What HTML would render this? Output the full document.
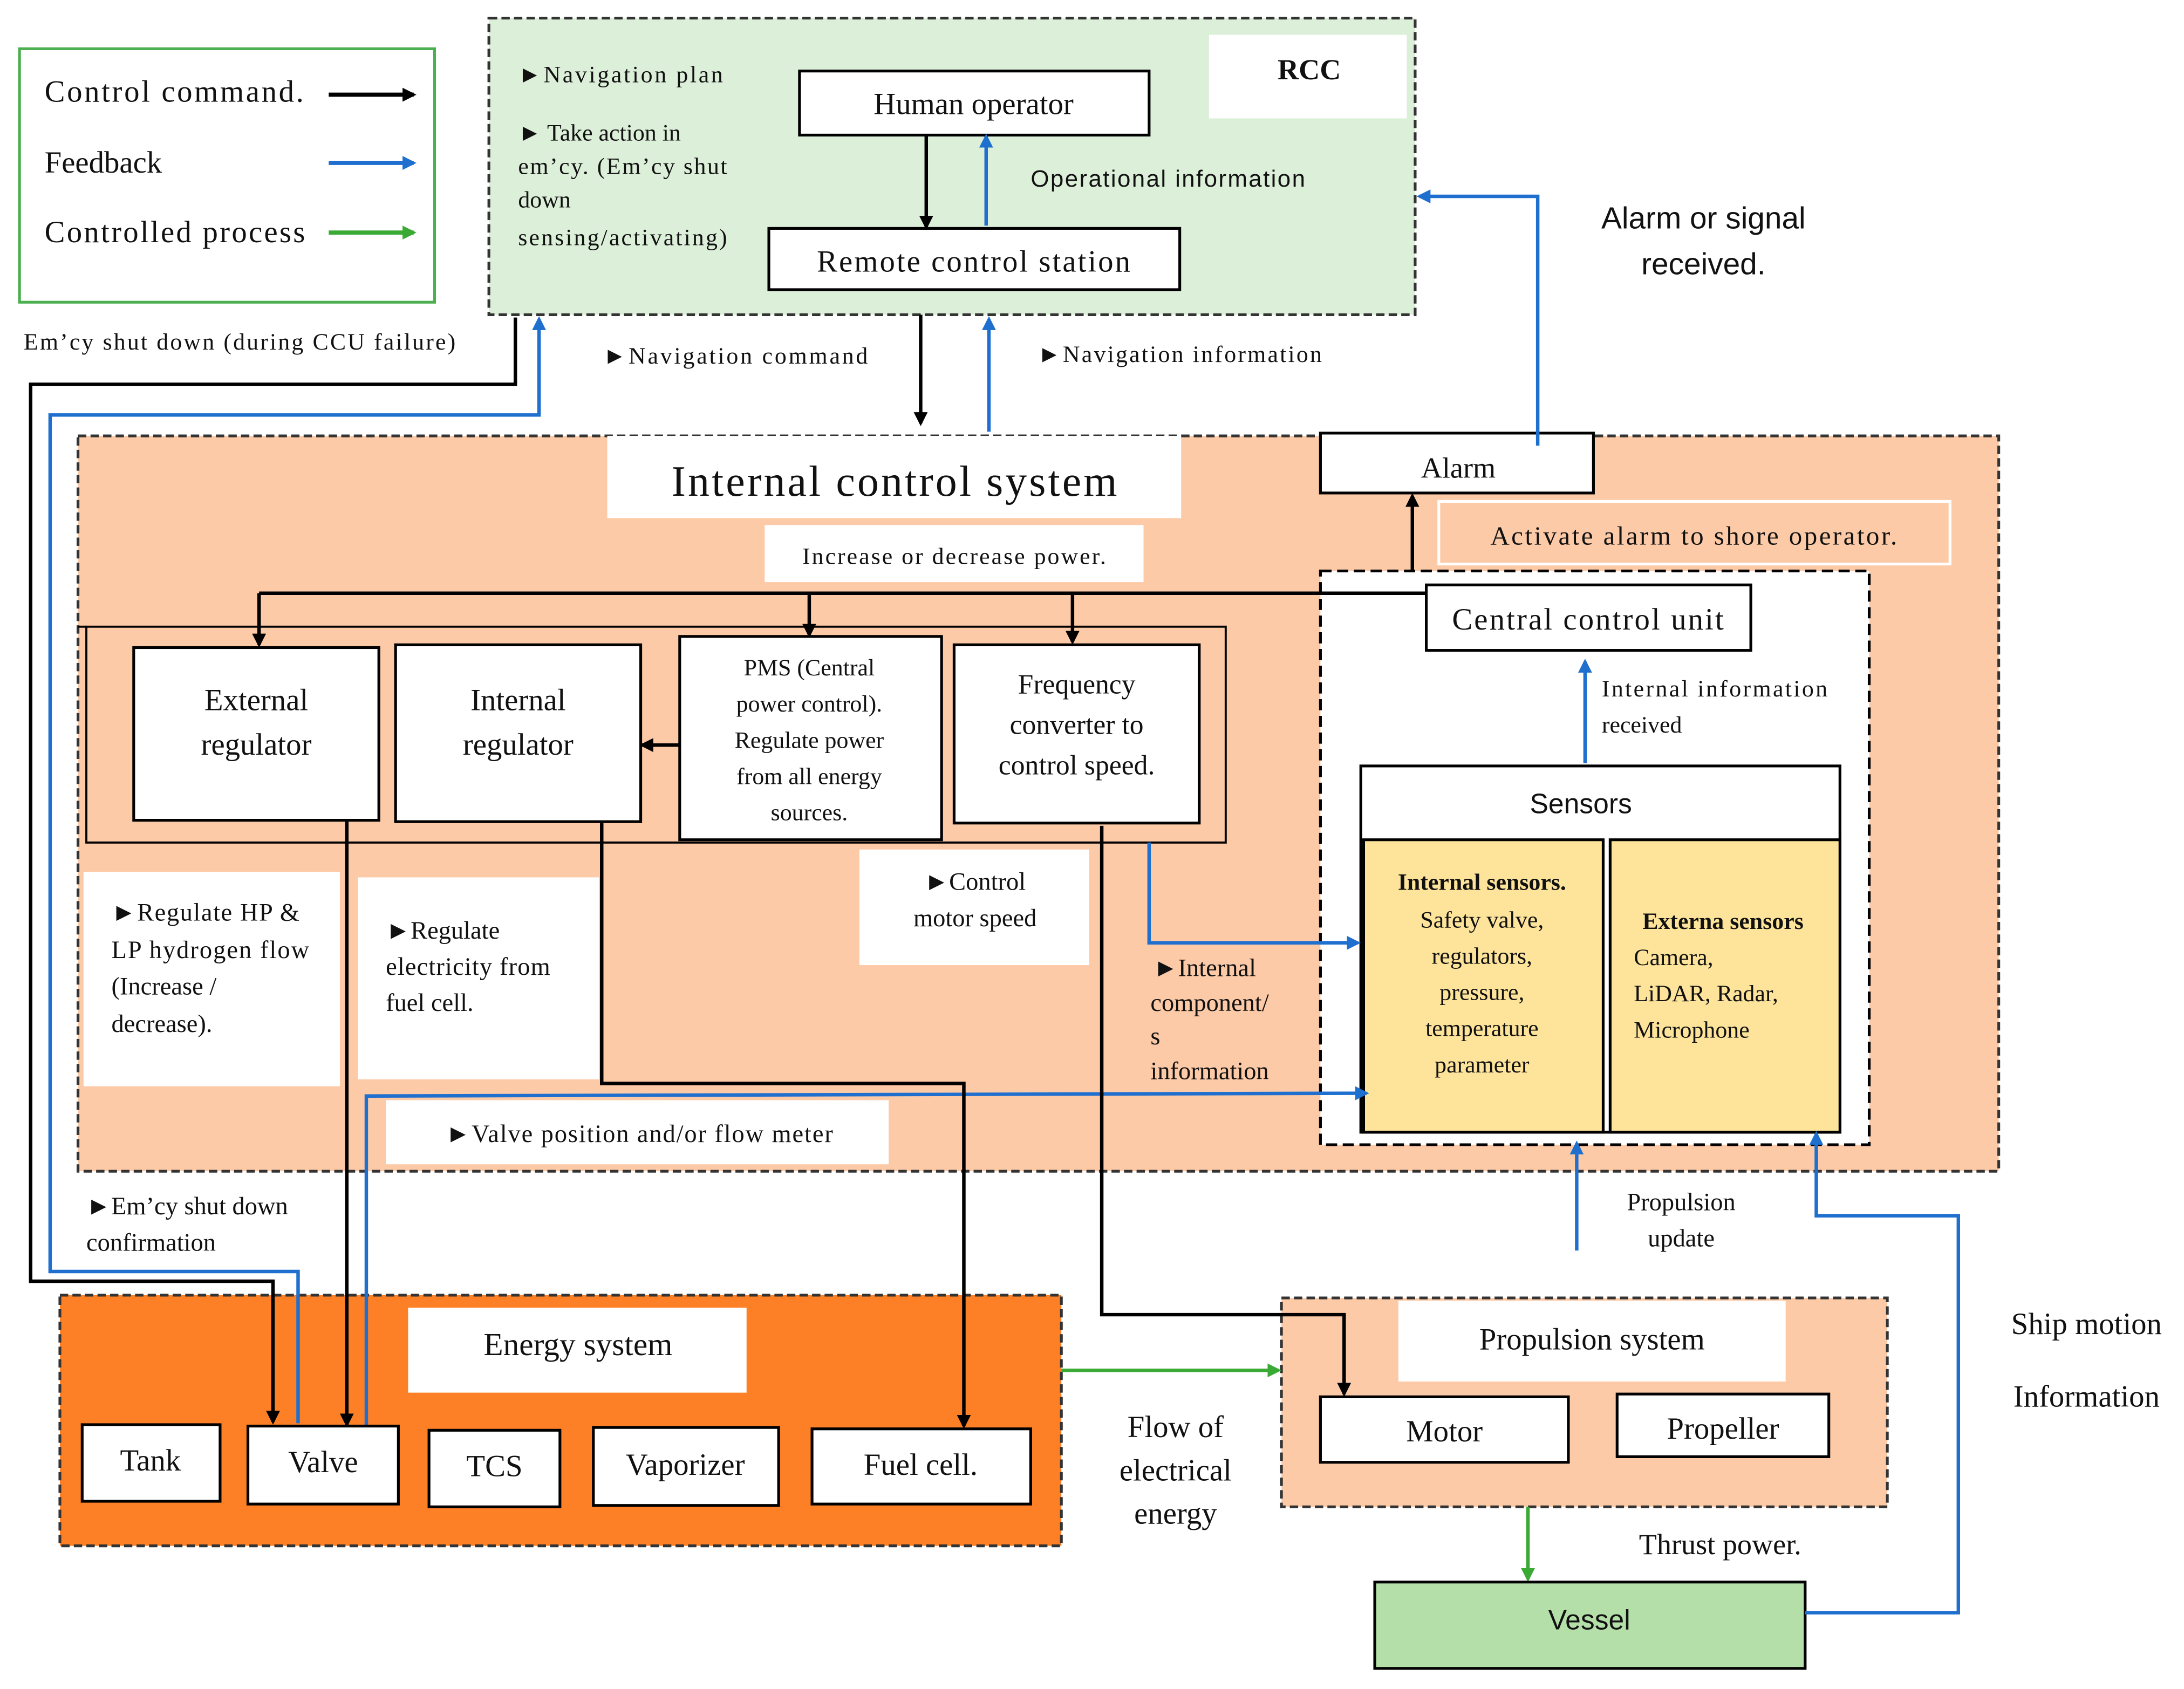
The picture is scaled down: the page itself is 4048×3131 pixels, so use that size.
<!DOCTYPE html>
<html><head><meta charset="utf-8"><style>
html,body{margin:0;padding:0;background:#fff;}
svg{display:block;}
.s{font-family:"Liberation Serif",serif;fill:#111;}
.a{font-family:"Liberation Sans",sans-serif;fill:#111;}
</style></head><body>
<svg width="4048" height="3131" viewBox="0 0 1568 1212.8" preserveAspectRatio="none" xmlns="http://www.w3.org/2000/svg">
<defs>
<marker id="mk" markerWidth="10" markerHeight="10" refX="8" refY="5" orient="auto" markerUnits="userSpaceOnUse"><path d="M0,0 L10,5 L0,10 z" fill="#000"/></marker>
<marker id="mb" markerWidth="10" markerHeight="10" refX="8" refY="5" orient="auto" markerUnits="userSpaceOnUse"><path d="M0,0 L10,5 L0,10 z" fill="#1f6fcf"/></marker>
<marker id="mg" markerWidth="10" markerHeight="10" refX="8" refY="5" orient="auto" markerUnits="userSpaceOnUse"><path d="M0,0 L10,5 L0,10 z" fill="#3aaa35"/></marker>
</defs>
<rect width="1568" height="1212.8" fill="#fff"/>
<!-- legend -->
<rect x="14" y="35" width="298" height="182" fill="#fff" stroke="#4caf50" stroke-width="2"/>
<text class="s" x="32" y="73" font-size="22" textLength="186">Control command.</text>
<line x1="236" y1="68" x2="297" y2="68" stroke="#000" stroke-width="3" marker-end="url(#mk)"/>
<text class="s" x="32" y="124" font-size="22">Feedback</text>
<line x1="236" y1="117" x2="297" y2="117" stroke="#1f6fcf" stroke-width="3" marker-end="url(#mb)"/>
<text class="s" x="32" y="174" font-size="22" textLength="187">Controlled process</text>
<line x1="236" y1="167" x2="297" y2="167" stroke="#3aaa35" stroke-width="3" marker-end="url(#mg)"/>
<text class="s" x="17" y="251" font-size="17" textLength="310">Em’cy shut down (during CCU failure)</text>
<!-- RCC -->
<rect x="351" y="13" width="665" height="213" fill="#dcefd9" stroke="#333" stroke-width="2" stroke-dasharray="6,3"/>
<rect x="868" y="25" width="142" height="60" fill="#fff"/>
<text class="s" x="940" y="57" font-size="21" font-weight="bold" text-anchor="middle">RCC</text>
<rect x="574" y="51" width="251" height="46" fill="#fff" stroke="#000" stroke-width="2"/>
<text class="s" x="699" y="82" font-size="22" text-anchor="middle">Human operator</text>
<rect x="552" y="164" width="295" height="44" fill="#fff" stroke="#000" stroke-width="2"/>
<text class="s" x="699" y="195" font-size="22" text-anchor="middle" textLength="225">Remote control station</text>
<line x1="665" y1="97" x2="665" y2="163" stroke="#000" stroke-width="2.5" marker-end="url(#mk)"/>
<line x1="708" y1="162" x2="708" y2="98" stroke="#1f6fcf" stroke-width="2.5" marker-end="url(#mb)"/>
<text class="a" x="740" y="134" font-size="17" textLength="197">Operational information</text>
<g class="s" font-size="17">
<text x="372" y="59" textLength="147">►Navigation plan</text>
<text x="372" y="101">► Take action in</text>
<text x="372" y="125" textLength="150">em’cy. (Em’cy shut</text>
<text x="372" y="149">down</text>
<text x="372" y="176" textLength="150">sensing/activating)</text>
</g>
<line x1="661" y1="226" x2="661" y2="304" stroke="#000" stroke-width="2.5" marker-end="url(#mk)"/>
<line x1="710" y1="310" x2="710" y2="229" stroke="#1f6fcf" stroke-width="2.5" marker-end="url(#mb)"/>
<text class="s" x="433" y="261" font-size="17" textLength="190">►Navigation command</text>
<text class="s" x="745" y="260" font-size="17" textLength="204">►Navigation information</text>
<text class="a" x="1223" y="164" font-size="22" text-anchor="middle">Alarm or signal</text>
<text class="a" x="1223" y="197" font-size="22" text-anchor="middle">received.</text>
<!-- Internal control system -->
<rect x="56" y="313" width="1379" height="528" fill="#fdcaa7" stroke="#333" stroke-width="2" stroke-dasharray="6,3"/>
<rect x="436" y="313" width="412" height="59" fill="#fff"/>
<text class="s" x="642" y="356" font-size="31" text-anchor="middle" textLength="320">Internal control system</text>
<rect x="549" y="377" width="272" height="41" fill="#fff"/>
<text class="s" x="685" y="405" font-size="17" text-anchor="middle" textLength="218">Increase or decrease power.</text>
<rect x="948" y="311" width="196" height="43" fill="#fff" stroke="#000" stroke-width="2"/>
<text class="s" x="1047" y="343" font-size="21" text-anchor="middle">Alarm</text>
<polyline points="1104,320 1104,141 1019,141" fill="none" stroke="#1f6fcf" stroke-width="2.5" marker-end="url(#mb)"/>
<rect x="1033" y="360" width="367" height="45" fill="#fdcaa7" stroke="#fff" stroke-width="2"/>
<text class="s" x="1216" y="391" font-size="19" text-anchor="middle" textLength="292">Activate alarm to shore operator.</text>
<line x1="1014" y1="410" x2="1014" y2="356" stroke="#000" stroke-width="2.5" marker-end="url(#mk)"/>
<!-- CCU dashed -->
<rect x="948" y="410" width="394" height="412" fill="#fff" stroke="#000" stroke-width="2" stroke-dasharray="8,4"/>
<rect x="1024" y="420" width="233" height="47" fill="#fff" stroke="#000" stroke-width="2"/>
<text class="s" x="1140" y="452" font-size="22" text-anchor="middle" textLength="195">Central control unit</text>
<line x1="1138" y1="548" x2="1138" y2="475" stroke="#1f6fcf" stroke-width="2.5" marker-end="url(#mb)"/>
<text class="s" x="1150" y="500" font-size="17" textLength="162">Internal information</text>
<text class="s" x="1150" y="526" font-size="17">received</text>
<rect x="977" y="550" width="344" height="263" fill="#fff" stroke="#000" stroke-width="2"/>
<text class="a" x="1135" y="584" font-size="20" text-anchor="middle">Sensors</text>
<rect x="979" y="603" width="172" height="210" fill="#fde49a" stroke="#000" stroke-width="2"/>
<rect x="1156" y="603" width="165" height="210" fill="#fde49a" stroke="#000" stroke-width="2"/>
<g class="s" font-size="17" text-anchor="middle">
<text x="1064" y="639" font-weight="bold">Internal sensors.</text>
<text x="1064" y="666">Safety valve,</text>
<text x="1064" y="692">regulators,</text>
<text x="1064" y="718">pressure,</text>
<text x="1064" y="744">temperature</text>
<text x="1064" y="770">parameter</text>
<text x="1237" y="667" font-weight="bold">Externa sensors</text>
</g>
<g class="s" font-size="17">
<text x="1173" y="693">Camera,</text>
<text x="1173" y="719">LiDAR, Radar,</text>
<text x="1173" y="745">Microphone</text>
</g>
<!-- control bus -->
<line x1="186" y1="426" x2="1024" y2="426" stroke="#000" stroke-width="2.5"/>
<rect x="62" y="450" width="818" height="155" fill="none" stroke="#000" stroke-width="1.5"/>
<line x1="56" y1="450" x2="62" y2="450" stroke="#000" stroke-width="1.5"/>
<line x1="186" y1="426" x2="186" y2="463" stroke="#000" stroke-width="2.5" marker-end="url(#mk)"/>
<line x1="581" y1="426" x2="581" y2="456" stroke="#000" stroke-width="2.5" marker-end="url(#mk)"/>
<line x1="770" y1="426" x2="770" y2="461" stroke="#000" stroke-width="2.5" marker-end="url(#mk)"/>
<rect x="96" y="465" width="176" height="124" fill="#fff" stroke="#000" stroke-width="2"/>
<text class="s" x="184" y="510" font-size="22" text-anchor="middle">External</text>
<text class="s" x="184" y="542" font-size="22" text-anchor="middle">regulator</text>
<rect x="284" y="463" width="176" height="127" fill="#fff" stroke="#000" stroke-width="2"/>
<text class="s" x="372" y="510" font-size="22" text-anchor="middle">Internal</text>
<text class="s" x="372" y="542" font-size="22" text-anchor="middle">regulator</text>
<rect x="488" y="457" width="188" height="146" fill="#fff" stroke="#000" stroke-width="2"/>
<g class="s" font-size="17" text-anchor="middle">
<text x="581" y="485">PMS (Central</text>
<text x="581" y="511">power control).</text>
<text x="581" y="537">Regulate power</text>
<text x="581" y="563">from all energy</text>
<text x="581" y="589">sources.</text>
</g>
<line x1="488" y1="535" x2="461" y2="535" stroke="#000" stroke-width="2.5" marker-end="url(#mk)"/>
<rect x="685" y="463" width="176" height="128" fill="#fff" stroke="#000" stroke-width="2"/>
<g class="s" font-size="20" text-anchor="middle">
<text x="773" y="498">Frequency</text>
<text x="773" y="527">converter to</text>
<text x="773" y="556">control speed.</text>
</g>
<rect x="60" y="626" width="184" height="154" fill="#fff"/>
<g class="s" font-size="18">
<text x="80" y="661" textLength="135">►Regulate HP &amp;</text>
<text x="80" y="688" textLength="142">LP hydrogen flow</text>
<text x="80" y="714">(Increase /</text>
<text x="80" y="741">decrease).</text>
</g>
<rect x="257" y="630" width="173" height="145" fill="#fff"/>
<g class="s" font-size="18">
<text x="277" y="674">►Regulate</text>
<text x="277" y="700" textLength="118">electricity from</text>
<text x="277" y="726">fuel cell.</text>
</g>
<rect x="617" y="610" width="165" height="83" fill="#fff"/>
<text class="s" x="700" y="639" font-size="18" text-anchor="middle">►Control</text>
<text class="s" x="700" y="665" font-size="18" text-anchor="middle">motor speed</text>
<g class="s" font-size="18">
<text x="828" y="701">►Internal</text>
<text x="826" y="726">component/</text>
<text x="826" y="750">s</text>
<text x="826" y="775">information</text>
</g>
<rect x="277" y="790" width="361" height="46" fill="#fff"/>
<text class="s" x="320" y="820" font-size="18" textLength="278">►Valve position and/or flow meter</text>
<!-- energy / propulsion backgrounds -->
<rect x="43" y="930" width="719" height="180" fill="#fd8026" stroke="#333" stroke-width="2" stroke-dasharray="6,3"/>
<rect x="293" y="939" width="243" height="61" fill="#fff"/>
<text class="s" x="415" y="973" font-size="23" text-anchor="middle">Energy system</text>
<rect x="920" y="932" width="435" height="150" fill="#fdcaa7" stroke="#333" stroke-width="2" stroke-dasharray="6,3"/>
<rect x="1004" y="934" width="278" height="58" fill="#fff"/>
<text class="s" x="1143" y="969" font-size="22" text-anchor="middle">Propulsion system</text>
<!-- lines -->
<polyline points="825,605 825,677 975,677" fill="none" stroke="#1f6fcf" stroke-width="2.5" marker-end="url(#mb)"/>
<polyline points="263,1025 263,787 981,785" fill="none" stroke="#1f6fcf" stroke-width="2.5" marker-end="url(#mb)"/>
<line x1="249" y1="590" x2="249" y2="1023" stroke="#000" stroke-width="2.5" marker-end="url(#mk)"/>
<polyline points="432,591 432,778 692,778 692,1024" fill="none" stroke="#000" stroke-width="2.5" marker-end="url(#mk)"/>
<polyline points="791,593 791,944 965,944 965,1001" fill="none" stroke="#000" stroke-width="2.5" marker-end="url(#mk)"/>
<polyline points="370,228 370,276 22,276 22,920 196,920 196,1021" fill="none" stroke="#000" stroke-width="2.5" marker-end="url(#mk)"/>
<polyline points="214,1022 214,913 36,913 36,298 387,298 387,229" fill="none" stroke="#1f6fcf" stroke-width="2.5" marker-end="url(#mb)"/>
<text class="s" x="62" y="872" font-size="18">►Em’cy shut down</text>
<text class="s" x="62" y="898" font-size="18">confirmation</text>
<!-- energy boxes -->
<g stroke="#000" stroke-width="2" fill="#fff">
<rect x="59" y="1023" width="99" height="55"/>
<rect x="178" y="1024" width="108" height="56"/>
<rect x="308" y="1027" width="94" height="55"/>
<rect x="426" y="1025" width="133" height="56"/>
<rect x="583" y="1026" width="157" height="54"/>
</g>
<g class="s" font-size="22" text-anchor="middle">
<text x="108" y="1056">Tank</text>
<text x="232" y="1057">Valve</text>
<text x="355" y="1060">TCS</text>
<text x="492" y="1059">Vaporizer</text>
<text x="661" y="1059">Fuel cell.</text>
</g>
<line x1="762" y1="984" x2="918" y2="984" stroke="#3aaa35" stroke-width="2.5" marker-end="url(#mg)"/>
<g class="s" font-size="22" text-anchor="middle">
<text x="844" y="1032">Flow of</text>
<text x="844" y="1063">electrical</text>
<text x="844" y="1094">energy</text>
</g>
<rect x="948" y="1003" width="178" height="47" fill="#fff" stroke="#000" stroke-width="2"/>
<text class="s" x="1037" y="1035" font-size="22" text-anchor="middle">Motor</text>
<rect x="1161" y="1001" width="152" height="45" fill="#fff" stroke="#000" stroke-width="2"/>
<text class="s" x="1237" y="1033" font-size="22" text-anchor="middle">Propeller</text>
<line x1="1097" y1="1082" x2="1097" y2="1134" stroke="#3aaa35" stroke-width="2.5" marker-end="url(#mg)"/>
<rect x="987" y="1136" width="309" height="62" fill="#b5dfa8" stroke="#000" stroke-width="2"/>
<text class="a" x="1141" y="1170" font-size="20" text-anchor="middle">Vessel</text>
<text class="s" x="1235" y="1116" font-size="21" text-anchor="middle">Thrust power.</text>
<polyline points="1296,1158 1406,1158 1406,873 1304,873 1304,814" fill="none" stroke="#1f6fcf" stroke-width="2.5" marker-end="url(#mb)"/>
<line x1="1132" y1="898" x2="1132" y2="821" stroke="#1f6fcf" stroke-width="2.5" marker-end="url(#mb)"/>
<text class="s" x="1207" y="869" font-size="18" text-anchor="middle">Propulsion</text>
<text class="s" x="1207" y="895" font-size="18" text-anchor="middle">update</text>
<text class="s" x="1498" y="958" font-size="22" text-anchor="middle">Ship motion</text>
<text class="s" x="1498" y="1010" font-size="22" text-anchor="middle">Information</text>
</svg>
</body></html>
